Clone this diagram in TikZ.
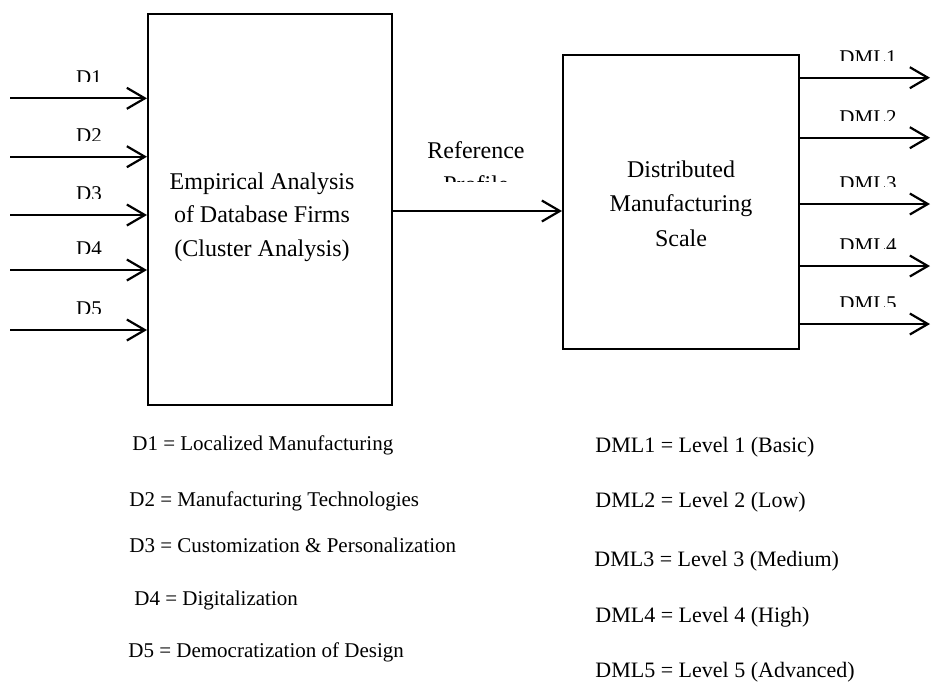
\documentclass[tikz,border=0pt]{standalone}
\usepackage{fontspec}
\setmainfont{Liberation Serif}
\usetikzlibrary{arrows.meta}

\tikzset{
  myarrow/.style={-{Straight Barb[length=9pt,width=10.5pt]},line width=1.1pt},
  mybox/.style={draw,line width=1pt,inner sep=0pt},
  boxtext/.style={align=center,inner sep=0pt},
  tag/.style={anchor=base,inner sep=0pt,font=\fontsize{10.5}{12}\selectfont},
  legend/.style={anchor=base west,inner sep=0pt},
}

\begin{document}
\begin{tikzpicture}[x=0.5pt,y=-0.5pt]
 \useasboundingbox (0,0) rectangle (931,682);

 % the two blocks
 \node[mybox,minimum width=122pt,minimum height=195.5pt] (ana) at (270,209.5) {};
 \node[boxtext,font=\fontsize{12}{16.75}\selectfont] (anatxt) at (262,217)
   {Empirical Analysis\\of Database Firms\\(Cluster Analysis)};
 \node[mybox,minimum width=118pt,minimum height=147pt] (dms) at (681,202) {};
 \node[boxtext,font=\fontsize{12}{17.3}\selectfont] (dmstxt) at (681,203.7)
   {Distributed\\Manufacturing\\Scale};

 % inputs and outputs
 \foreach \y [count=\i] in {98.3,156.7,215,270,330}
   \draw[myarrow] (10,\y) coordinate (in\i) -- (in\i -| ana.west);
 \foreach \y [count=\i] in {77.7,137.7,204,266,324}
   \draw[myarrow] (dms.east |- 0,\y) coordinate (out\i) -- (930,\y);
 \coordinate (mid) at (0,211);
 \draw[myarrow] (ana.east |- mid) -- (dms.west |- mid);

 % labels, cut off just above the arrows
 \begin{scope}
  \clip foreach \y in {98.3,156.7,215,270,330} {(40,\y-50) rectangle (140,\y-16.6)}
        foreach \y in {77.7,137.7,204,266,324} {(820,\y-50) rectangle (931,\y-17.7)}
        (400,120) rectangle (560,181.7);
  \foreach \i in {1,...,5}
    \node[tag] (d\i) at ([yshift=7.15pt]in\i -| 89,0) {D\i};
  \foreach \i in {1,...,5}
    \node[tag] (dml\i) at ([yshift=6.85pt]out\i -| 868,0) {DML\i};
  \node[boxtext,font=\fontsize{12}{17}\selectfont] (ref) at (476,167)
   {Reference\\Profile};
 \end{scope}

 % legend
 \begin{scope}[font=\fontsize{10.5}{12}\selectfont]
  \node[legend] (l1) at (132,450.7) {D1 = Localized Manufacturing};
  \node[legend] (l2) at (129,506)   {D2 = Manufacturing Technologies};
  \node[legend] (l3) at (129,552)   {D3 = Customization \& Personalization};
  \node[legend] (l4) at (134,605)   {D4 = Digitalization};
  \node[legend] (l5) at (128,657)   {D5 = Democratization of Design};
 \end{scope}
 \begin{scope}[font=\fontsize{11}{12}\selectfont]
  \node[legend] (r1) at (595,452) {DML1 = Level 1 (Basic)};
  \node[legend] (r2) at (595,507) {DML2 = Level 2 (Low)};
  \node[legend] (r3) at (594,566) {DML3 = Level 3 (Medium)};
  \node[legend] (r4) at (595,622) {DML4 = Level 4 (High)};
  \node[legend] (r5) at (595,677) {DML5 = Level 5 (Advanced)};
 \end{scope}
\end{tikzpicture}
\end{document}
